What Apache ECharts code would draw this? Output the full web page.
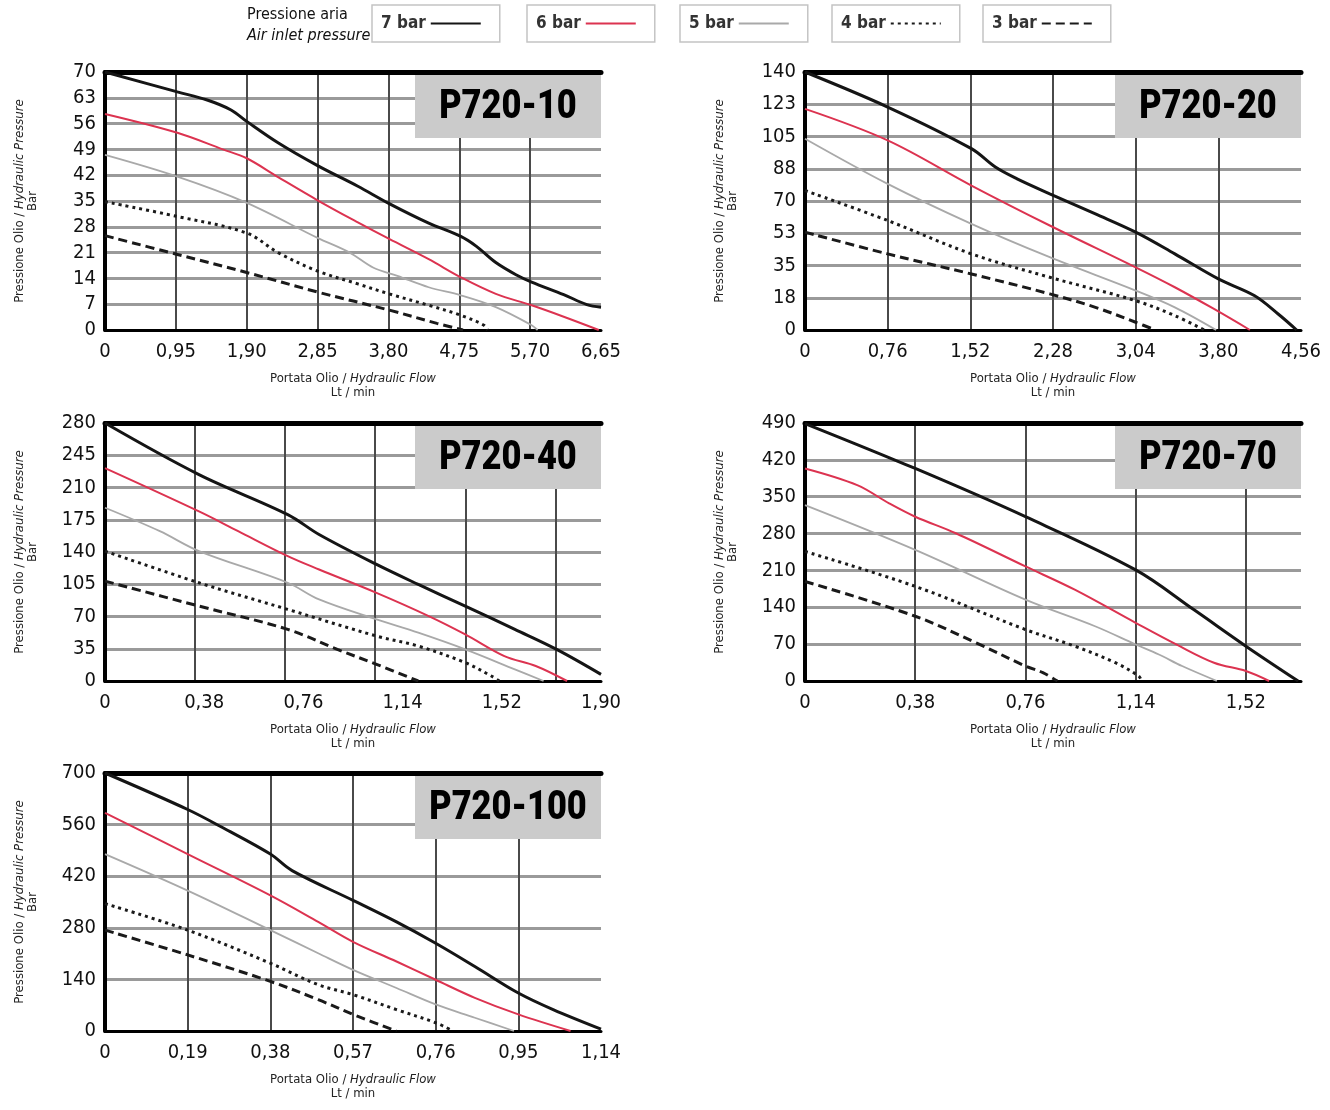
<!DOCTYPE html>
<html>
<head>
<meta charset="utf-8">
<script src="https://cdn.jsdelivr.net/npm/echarts@6/dist/echarts.min.js"></script>
<style>
html, body { margin: 0; padding: 0; background: #fff; }
#chart { width: 1330px; height: 1110px; }
</style>
</head>
<body>
<div id="chart"></div>
<script>
// modelli e scale degli assi
const models = ['P720-10', 'P720-20', 'P720-40', 'P720-70', 'P720-100']
const xMax = [6.65, 4.56, 1.90, 1.71, 1.14]
const xLabelStep = [0.95, 0.76, 0.38, 0.38, 0.19]
const xGridStep = [0.95, 0.76, 0.345, 0.38, 0.19]   // nel P720-40 la griglia non coincide con le etichette
const yMax = [70, 140, 280, 490, 700]
const yStep = [7, 17.5, 35, 70, 140]
const pressures = ['7 bar', '6 bar', '5 bar', '4 bar', '3 bar']

// curve: [portata Lt/min, pressione bar]
const p10_7 = [[0, 70], [0.97, 64.6], [1.37, 62.4], [1.69, 59.7], [1.9, 56.6], [2.32, 50.8], [2.85, 44.6], [3.39, 39], [3.81, 34.3], [4.34, 29], [4.77, 25.4], [4.98, 22.7], [5.24, 18.3], [5.51, 15], [5.72, 13], [6.15, 9.6], [6.46, 6.9], [6.65, 6.2]]
const p10_6 = [[0, 58.6], [0.97, 53.5], [1.58, 49], [1.9, 46.6], [2.32, 41.5], [2.85, 35.2], [3.39, 29.2], [3.81, 24.7], [4.34, 19.2], [4.77, 14.3], [5.24, 9.8], [5.72, 6.7], [6.15, 3.6], [6.62, 0]]
const p10_5 = [[0, 47.5], [0.97, 41.6], [1.9, 34.5], [2.85, 25], [3.28, 21], [3.6, 16.9], [3.92, 14.7], [4.34, 11.6], [4.77, 9.4], [5.24, 6.2], [5.72, 1.3], [5.8, 0]]
const p10_4 = [[0, 34.8], [0.97, 30.8], [1.9, 26.3], [2.32, 21], [2.85, 16], [3.39, 12.5], [3.81, 9.8], [4.34, 6.7], [4.77, 4], [5.08, 1.3], [5.13, 0]]
const p10_3 = [[0, 25.6], [0.97, 20.5], [1.9, 15.6], [2.85, 10.3], [3.81, 5.4], [4.45, 1.8], [4.8, 0]]

const p20_7 = [[0, 140], [0.76, 121], [1.53, 98.4], [1.75, 88.4], [1.95, 82], [2.25, 73.9], [2.67, 63], [3.04, 53.1], [3.4, 41.3], [3.8, 27.7], [4.13, 18.7], [4.35, 8.7], [4.52, 0]]
const p20_6 = [[0, 120], [0.76, 102.9], [1.53, 78.4], [2.25, 56.7], [3.04, 34], [3.4, 23.2], [3.76, 11.4], [4.09, 0]]
const p20_5 = [[0, 103.8], [0.76, 79.3], [1.53, 57.6], [2.25, 39.5], [3.04, 21.4], [3.4, 12.3], [3.78, 0]]
const p20_4 = [[0, 75.7], [0.76, 59.4], [1.53, 41.3], [2.25, 28.6], [3.04, 15.9], [3.4, 7.8], [3.67, 0]]
const p20_3 = [[0, 53.1], [0.76, 41.3], [1.53, 30.4], [2.25, 19.6], [2.67, 12.3], [3.04, 4.2], [3.22, 0]]

const p40_7 = [[0, 280], [0.36, 224], [0.7, 180.6], [0.82, 159], [1.04, 126.5], [1.2, 104.8], [1.38, 81.3], [1.57, 56], [1.73, 34.3], [1.9, 7.2]]
const p40_6 = [[0, 231], [0.36, 184], [0.51, 162.6], [0.7, 135.5], [0.82, 121], [1.04, 95.7], [1.24, 70.5], [1.38, 50.6], [1.53, 27], [1.65, 16.3], [1.77, 0]]
const p40_5 = [[0, 188], [0.21, 162.6], [0.36, 141], [0.7, 106.6], [0.82, 88.5], [1.04, 66.8], [1.2, 52.4], [1.38, 34.3], [1.57, 12.6], [1.68, 0]]
const p40_4 = [[0, 141], [0.36, 106.6], [0.7, 77.7], [1.04, 48.8], [1.2, 37.9], [1.38, 19.9], [1.48, 5.4], [1.51, 0]]
const p40_3 = [[0, 108.4], [0.36, 81.3], [0.7, 56], [0.89, 34.3], [1.04, 18.1], [1.2, 0]]

const p70_7 = [[0, 489], [0.38, 403.6], [0.76, 312], [1.14, 211], [1.34, 135.6], [1.52, 66.2], [1.7, 0]]
const p70_6 = [[0, 403.6], [0.18, 372], [0.29, 337.4], [0.38, 312], [0.52, 280.6], [0.76, 217.6], [0.93, 173.4], [1.14, 110.4], [1.28, 69.4], [1.41, 34.7], [1.52, 18.9], [1.6, 0]]
const p70_5 = [[0, 334], [0.38, 249], [0.76, 154.5], [1.0, 104], [1.14, 69.4], [1.22, 50.4], [1.3, 28.4], [1.42, 0]]
const p70_4 = [[0, 246], [0.38, 179.7], [0.76, 97.7], [0.93, 66.2], [1.07, 34.7], [1.15, 9.5], [1.16, 0]]
const p70_3 = [[0, 189], [0.38, 123], [0.59, 72.5], [0.76, 28.4], [0.82, 15.8], [0.87, 0]]

const p100_7 = [[0, 700], [0.19, 601], [0.27, 552], [0.38, 480], [0.43, 435], [0.57, 354.5], [0.67, 296], [0.76, 238], [0.85, 175], [0.95, 103], [1.03, 58], [1.14, 5]]
const p100_6 = [[0, 592], [0.19, 480], [0.38, 368], [0.49, 296], [0.57, 242], [0.67, 188.5], [0.76, 139], [0.85, 90], [0.95, 45], [1.07, 0]]
const p100_5 = [[0, 480], [0.19, 381], [0.38, 273.7], [0.49, 211], [0.57, 166], [0.67, 116.7], [0.76, 72], [0.85, 36], [0.94, 0]]
const p100_4 = [[0, 345.5], [0.19, 273.7], [0.38, 184], [0.49, 125.6], [0.57, 98.7], [0.67, 58], [0.76, 22.4], [0.8, 0]]
const p100_3 = [[0, 273.7], [0.19, 206.4], [0.38, 134.6], [0.49, 85], [0.58, 40.4], [0.67, 0]]

const curves = [
    [p10_7, p10_6, p10_5, p10_4, p10_3],
    [p20_7, p20_6, p20_5, p20_4, p20_3],
    [p40_7, p40_6, p40_5, p40_4, p40_3],
    [p70_7, p70_6, p70_5, p70_4, p70_3],
    [p100_7, p100_6, p100_5, p100_4, p100_3]
]

// stile delle linee per pressione aria
const lineStyles = [
    { color: '#151515', width: 3, type: 'solid' },
    { color: '#dc3350', width: 2, type: 'solid' },
    { color: '#a9a9a9', width: 1.8, type: 'solid' },
    { color: '#1a1a1a', width: 3, type: [3, 4] },
    { color: '#1a1a1a', width: 3, type: [9, 5] }
]

// impaginazione
const FONT = "'Liberation Sans Narrow', 'DejaVu Sans Condensed', 'Roboto', sans-serif"
const TITLE_FONT = "Roboto, 'DejaVu Sans', sans-serif"
const W = 496, H = 258
const panelLeft = [105, 805, 105, 805, 105]
const panelTop = [72, 72, 423, 423, 773]
const legendLeft = [372, 527, 680, 832, 983]

function fmtFlow(step) {
    return function (v) {
        let k = v / step
        if (Math.abs(k - Math.round(k)) > 1e-6) return ''
        if (Math.abs(v) < 1e-9) return '0'
        return v.toFixed(2).replace('.', ',')
    }
}

let grid = [], xAxis = [], yAxis = [], series = [], graphic = [], legend = []

models.forEach((m, i) => {
    grid.push({ left: panelLeft[i], top: panelTop[i], width: W, height: H })
    // asse con etichette
    xAxis.push({
        gridIndex: i, type: 'value', position: 'bottom',
        min: 0, max: xMax[i], interval: xLabelStep[i],
        axisLine: { show: true, onZero: false, lineStyle: { color: '#000', width: 3 } },
        axisTick: { show: false },
        splitLine: { show: false },
        axisLabel: { fontSize: 20, fontFamily: FONT, color: '#111', margin: 12, formatter: fmtFlow(xLabelStep[i]) },
        name: 'Portata Olio / {i|Hydraulic Flow}\nLt / min',
        nameLocation: 'middle', nameGap: 42,
        nameTextStyle: {
            fontSize: 13, fontFamily: FONT, color: '#222', lineHeight: 14,
            rich: { i: { fontSize: 13, fontFamily: FONT, fontStyle: 'italic', color: '#222' } }
        }
    })
    // asse della griglia verticale (bordo superiore)
    xAxis.push({
        gridIndex: i, type: 'value', position: 'top',
        min: 0, max: xMax[i], interval: xGridStep[i],
        axisLine: { show: true, onZero: false, lineStyle: { color: '#000', width: 5 } },
        axisTick: { show: false },
        axisLabel: { show: false },
        splitLine: { show: true, showMaxLine: false, lineStyle: { color: '#4a4a4a', width: 2 } }
    })
    yAxis.push({
        gridIndex: i, type: 'value',
        min: 0, max: yMax[i], interval: yStep[i],
        axisLine: { show: true, onZero: false, lineStyle: { color: '#000', width: 4 } },
        axisTick: { show: false },
        axisLabel: { fontSize: 20, fontFamily: FONT, color: '#111', margin: 9, formatter: v => String(Math.round(v)) },
        splitLine: { show: true, lineStyle: { color: '#9a9a9a', width: 3 } },
        name: 'Pressione Olio / {i|Hydraulic Pressure}\nBar',
        nameLocation: 'middle', nameGap: 66, nameRotate: 90,
        nameTextStyle: {
            fontSize: 13, fontFamily: FONT, color: '#222', lineHeight: 13,
            rich: { i: { fontSize: 13, fontFamily: FONT, fontStyle: 'italic', color: '#222' } }
        }
    })
    curves[i].forEach((data, k) => {
        series.push({
            type: 'line', name: pressures[k],
            xAxisIndex: 2 * i, yAxisIndex: i,
            data: data,
            symbol: 'none', showSymbol: false,
            smooth: 0.35,
            lineStyle: lineStyles[k],
            itemStyle: { color: lineStyles[k].color },
            z: 5
        })
    })
    // riquadro grigio col nome del modello (sopra la griglia)
    graphic.push({
        type: 'rect', z: 100,
        shape: { x: panelLeft[i] + W * 0.625, y: panelTop[i] + 3, width: W * 0.375, height: 63 },
        style: { fill: '#cbcbcb' }
    })
    graphic.push({
        type: 'text', z: 101,
        x: panelLeft[i] + W * 0.8125, y: panelTop[i] + 36,
        scaleX: 0.86,
        style: { text: m, fill: '#000', font: '900 40px ' + TITLE_FONT, textAlign: 'center', textVerticalAlign: 'middle' }
    })
})

pressures.forEach((p, k) => {
    legend.push({
        data: [p], left: legendLeft[k], top: 5,
        orient: 'horizontal', align: 'right',
        borderColor: '#c4c4c4', borderWidth: 1.5,
        padding: [10, 18, 10, 9],
        itemWidth: 50, itemHeight: 12,
        selectedMode: false,
        itemStyle: { opacity: 0 },
        textStyle: { fontSize: 17, fontWeight: 'bold', fontFamily: FONT, color: '#333', width: 44 }
    })
})

graphic.push({
    type: 'text', x: 247, y: 7,
    style: { text: 'Pressione aria', fill: '#111', font: '16px ' + FONT }
})
graphic.push({
    type: 'text', x: 247, y: 28,
    style: { text: 'Air inlet pressure', fill: '#111', font: 'italic 16px ' + FONT }
})

let option = {
    backgroundColor: '#fff',
    animation: false,
    legend: legend,
    grid: grid,
    xAxis: xAxis,
    yAxis: yAxis,
    series: series,
    graphic: graphic
}

let myChart = echarts.init(document.getElementById('chart'))
myChart.setOption(option)
</script>
</body>
</html>
